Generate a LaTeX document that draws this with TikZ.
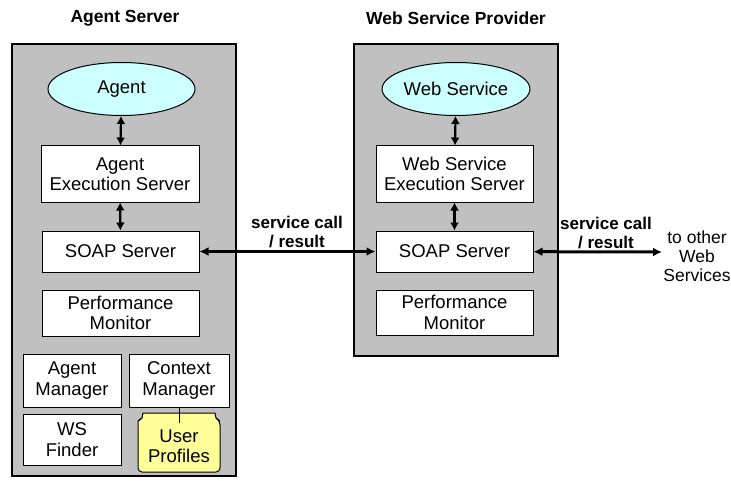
\documentclass[tikz,border=0pt]{standalone}
\usepackage{fontspec}
\setmainfont{Liberation Sans}
\usetikzlibrary{arrows.meta,shapes.geometric}
\definecolor{boxgray}{RGB}{192,192,192}
\definecolor{agentcyan}{RGB}{204,255,255}
\definecolor{profileyellow}{RGB}{255,255,153}
\begin{document}
\begin{tikzpicture}[x=1pt, y=-1pt,
  tier box/.style={draw, line width=1.3pt, fill=boxgray},
  comp node/.style={rectangle, draw, fill=white, line width=1pt, align=center, inner sep=0pt, font=\fontsize{18.5}{20.5}\selectfont},
  core node/.style={ellipse, draw, fill=agentcyan, line width=1pt, inner sep=0pt, minimum width=147pt, minimum height=53pt, font=\fontsize{18.5}{20.5}\selectfont},
  title node/.style={font=\bfseries\fontsize{17.5}{20}\selectfont},
  call label/.style={align=center, font=\bfseries\fontsize{17}{19}\selectfont},
  link/.style={{Latex[length=8pt,width=9pt]}-{Latex[length=8pt,width=9pt]}, line width=2.2pt},
  call link/.style={{Latex[length=9pt,width=9pt]}-{Latex[length=9pt,width=9pt]}, line width=3pt}]
\useasboundingbox (0,0) rectangle (731,484);
% tiers
\node [title node] (tagent) at (125,18) {Agent Server};
\node [title node] (tws) at (456,18) {Web Service Provider};
\draw [tier box] (12,44) rectangle (236,476);
\draw [tier box] (354,44) rectangle (558,356);
% agent server
\node [core node] (agent) at (121.5,89) {Agent};
\node [comp node, minimum width=158pt, minimum height=56pt] (aexec) at (120,174) {Agent\\Execution Server};
\node [comp node, minimum width=157pt, minimum height=41pt] (asoap) at (120.5,251.5) {SOAP Server};
\node [comp node, minimum width=157pt, minimum height=46pt] (aperf) at (120.5,313) {Performance\\Monitor};
\node [comp node, minimum width=98pt, minimum height=53pt] (amgr) at (72,380.5) {Agent\\Manager};
\node [comp node, minimum width=100pt, minimum height=53pt] (cmgr) at (179,380.5) {Context\\Manager};
\node [comp node, minimum width=98pt, minimum height=51pt] (wsfind) at (72,439.5) {WS\\Finder};
\draw [line width=1pt, fill=profileyellow, rounded corners=4pt]
  (138,421) -- (138,472) -- (220,472) -- (220,421) [sharp corners] -- (216,418) -- (215,413) -- (143,413) -- (142,418) -- cycle;
\draw [line width=1pt] (138,421) -- (142,418) (216,418) -- (220,421);
\node [align=center, inner sep=0pt, font=\fontsize{18.5}{20.5}\selectfont] (uprof) at (179,446) {User\\Profiles};
% web service provider
\node [core node] (wsvc) at (456,89) {Web Service};
\node [comp node, minimum width=157pt, minimum height=56pt] (wexec) at (454.5,174) {Web Service\\Execution Server};
\node [comp node, minimum width=157pt, minimum height=41pt] (wsoap) at (454.5,251.5) {SOAP Server};
\node [comp node, minimum width=157pt, minimum height=45pt] (wperf) at (454.5,312.5) {Performance\\Monitor};
% outside
\coordinate (other) at (662,252);
\node [call label] (lcall) at (297,232) {service call\\/ result};
\node [call label] (rcall) at (606,233) {service call\\/ result};
\node [align=center, font=\fontsize{17.5}{19}\selectfont] (wsother) at (697,256) {to other\\Web\\Services};
\path
  (agent) edge [link] (aexec)
  (aexec) edge [link] (asoap)
  (wsvc) edge [link] (wexec)
  (wexec) edge [link] (wsoap)
  (asoap) edge [call link] (wsoap)
  (wsoap) edge [call link] (other)
  ;
\draw [line width=1pt] (cmgr.south) -- (179,423);
\end{tikzpicture}
\end{document}
